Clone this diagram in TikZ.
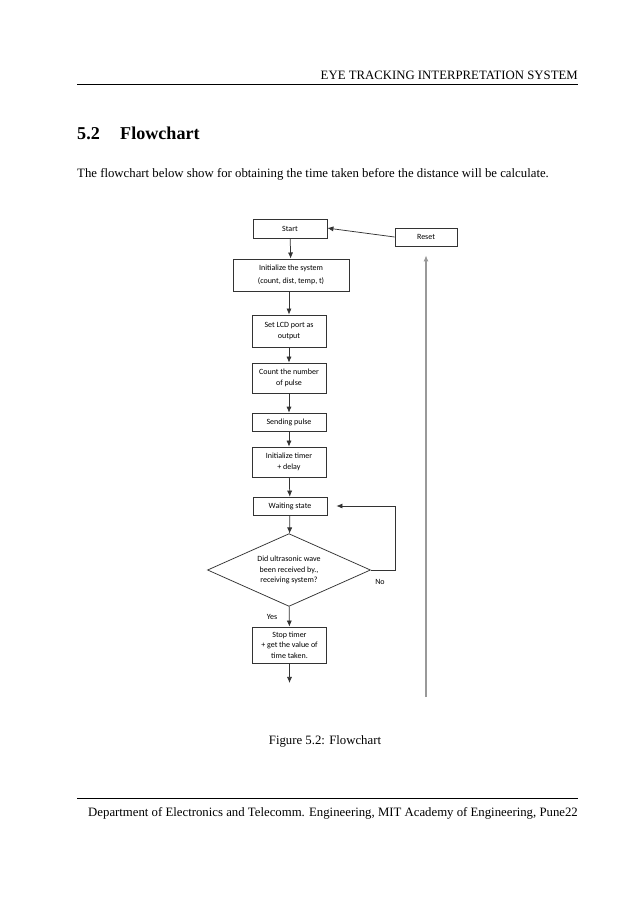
\documentclass[tikz,border=0pt]{standalone}
\usepackage{fontspec}
\setmainfont{Liberation Serif}
\newfontfamily\chartfont{Carlito}
\usetikzlibrary{shapes.geometric,arrows.meta}
\tikzset{
  chartsize/.style={font=\chartfont\fontsize{7.5}{10}\selectfont},
  flowbox/.style={draw=black!80,line width=0.7pt,fill=white,chartsize,align=center,inner sep=1pt,minimum width=24.4mm},
  flowline/.style={draw=black!80,line width=0.7pt,-{Latex[length=2mm,width=1.7mm]}},
  pagetext/.style={inner sep=0pt,font=\fontsize{12}{14.5}\selectfont}
}
\begin{document}
\begin{tikzpicture}[x=0.33mm,y=-0.33mm]
\useasboundingbox[fill=white] (0,0) rectangle (638,903);
\node[pagetext,anchor=base east] (head) at (578,79) {EYE TRACKING INTERPRETATION SYSTEM};
\draw[line width=0.5pt] (77,84)--(578,84);
\node[inner sep=0pt,anchor=base west,font=\bfseries\fontsize{17}{20}\selectfont] (secnum) at (77,139) {5.2};
\node[inner sep=0pt,anchor=base west,font=\bfseries\fontsize{17}{20}\selectfont] (sectitle) at (120,139) {Flowchart};
\node[pagetext,anchor=base west] (intro) at (77,177) {The flowchart below show for obtaining the time taken before the distance will be calculate.};
\node[flowbox,minimum height=6.3mm] (start) at (290,229) {Start};
\node[flowbox,minimum width=20.5mm,minimum height=5.9mm] (reset) at (426,237) {Reset};
\node[flowbox,minimum width=38.3mm,minimum height=10.6mm] (init) at (291,275) {Initialize the system\\[0.6ex](count, dist, temp, t)};
\node[flowbox,minimum height=10.6mm] (lcd) at (289,331) {Set LCD port as\\output};
\node[flowbox,minimum height=9.9mm] (count) at (289,378) {Count the number\\of pulse};
\node[flowbox,minimum height=5.9mm] (send) at (289,422) {Sending pulse};
\node[flowbox,minimum height=9.9mm] (timer) at (289,462) {Initialize timer\\+ delay};
\node[flowbox,minimum height=5.9mm] (wait) at (290,506) {Waiting state};
\node[flowbox,diamond,aspect=2.2,minimum width=53.8mm,minimum height=24mm,inner sep=0pt] (check) at (289,570) {Did ultrasonic wave\\been received by.,\\receiving system?};
\node[flowbox,minimum height=11.9mm] (stop) at (289.5,645) {Stop timer\\+ get the value of\\time taken.};
\coordinate (out) at (289.5,683);
\coordinate (loop) at (395,506);
\coordinate (base) at (426,697);
\draw[flowline] (reset.west)--([yshift=0.3mm]start.east);
\draw[flowline] (start)--(init);
\draw[flowline] (init.south-|lcd)--(lcd);
\draw[flowline] (lcd)--(count);
\draw[flowline] (count)--(send);
\draw[flowline] (send)--(timer);
\draw[flowline] (timer)--(wait);
\draw[flowline] (wait)--(check);
\draw[flowline,shorten >=3mm] (check.east)-|(loop)--(wait.east);
\draw[flowline] (check)--(stop);
\draw[flowline] (stop)--(out);
\draw[draw=black!40,line width=1pt,-{Latex[length=2mm,width=1.7mm]}] (base)--([yshift=-3mm]reset.south);
\node[chartsize] (no) at (380,582) {No};
\node[chartsize] (yes) at (272,617) {Yes};
\node[pagetext,anchor=base] (caption) at (325,744) {Figure 5.2: Flowchart};
\draw[line width=0.5pt] (77,798)--(578,798);
\node[pagetext,anchor=base east] (foot) at (578,816) {Department of Electronics and Telecomm. Engineering, MIT Academy of Engineering, Pune22};
\end{tikzpicture}
\end{document}
